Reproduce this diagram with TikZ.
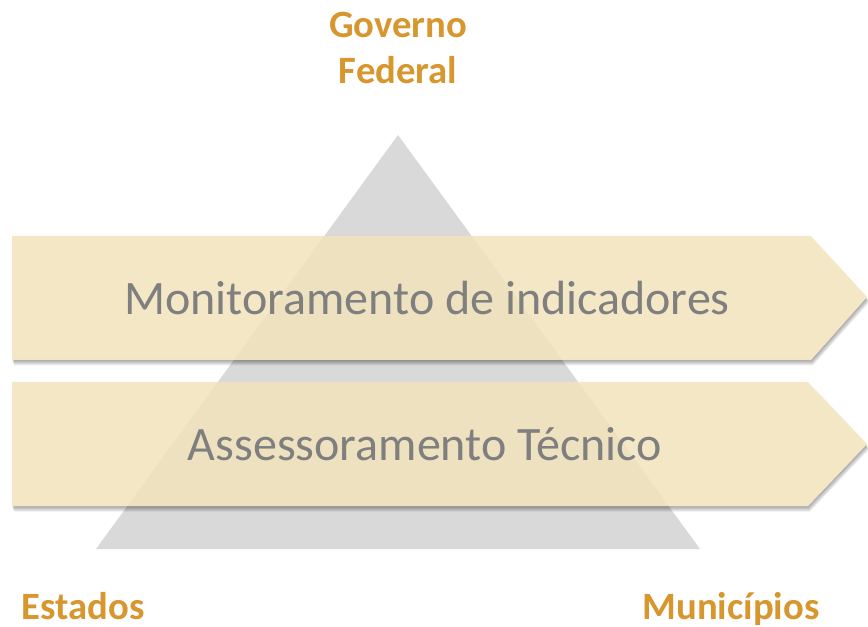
\documentclass[tikz,border=0pt]{standalone}
\usepackage{fontspec}
\setmainfont{Carlito}
\definecolor{tri}{HTML}{D9D9D9}
\definecolor{band}{HTML}{F2E3BD}
\definecolor{txtgray}{HTML}{7F7F7F}
\definecolor{gold}{HTML}{D7962E}
\tikzset{
  banner/.style={fill=band, fill opacity=0.86, draw=none},
  shade1/.style={fill=black, fill opacity=0.07, draw=none},
  bantext/.style={text=txtgray, font=\fontsize{36}{40}\selectfont, anchor=base, inner sep=0pt},
  lab/.style={text=gold, font=\bfseries\fontsize{29}{34.5}\selectfont, anchor=base, inner sep=0pt, align=center}
}
\newcommand{\bannerA}{(12,236) -- (811,236) -- (867,297) -- (811,360) -- (12,360) -- cycle}
\newcommand{\bannerB}{(12,382) -- (808,382) -- (867,444) -- (808,506) -- (12,506) -- cycle}
\begin{document}
\begin{tikzpicture}[x=0.75pt,y=-0.75pt]
\useasboundingbox (0,0) rectangle (868,627);
% pyramid
\fill[tri] (398,135) -- (700,549) -- (96,549) -- cycle;
\coordinate (apex) at (398,135);
% shadows (outside the banners only)
\begin{scope}[even odd rule]
  \clip (0,0) rectangle (868,627) \bannerA \bannerB;
  \foreach \d/\e in {1.5/1, 2.5/2, 3.5/3, 4.5/4, 5.5/5}{
    \begin{scope}[shift={(\e*0.4,\d)}]
      \path[shade1] \bannerA;
      \path[shade1] \bannerB;
    \end{scope}
  }
\end{scope}
% banners
\path[banner] \bannerA;
\path[banner] \bannerB;
% texts
\node[bantext] (mon) at (427,315) {Monitoramento de indicadores};
\node[bantext] (ass) at (425,460) {Assessoramento Técnico};
\node[lab] (gov) at (398,38) {Governo};
\node[lab] (fed) at (398,84) {Federal};
\node[lab] (est) at (83,619) {Estados};
\node[lab] (mun) at (731,619) {Municípios};
\end{tikzpicture}
\end{document}
